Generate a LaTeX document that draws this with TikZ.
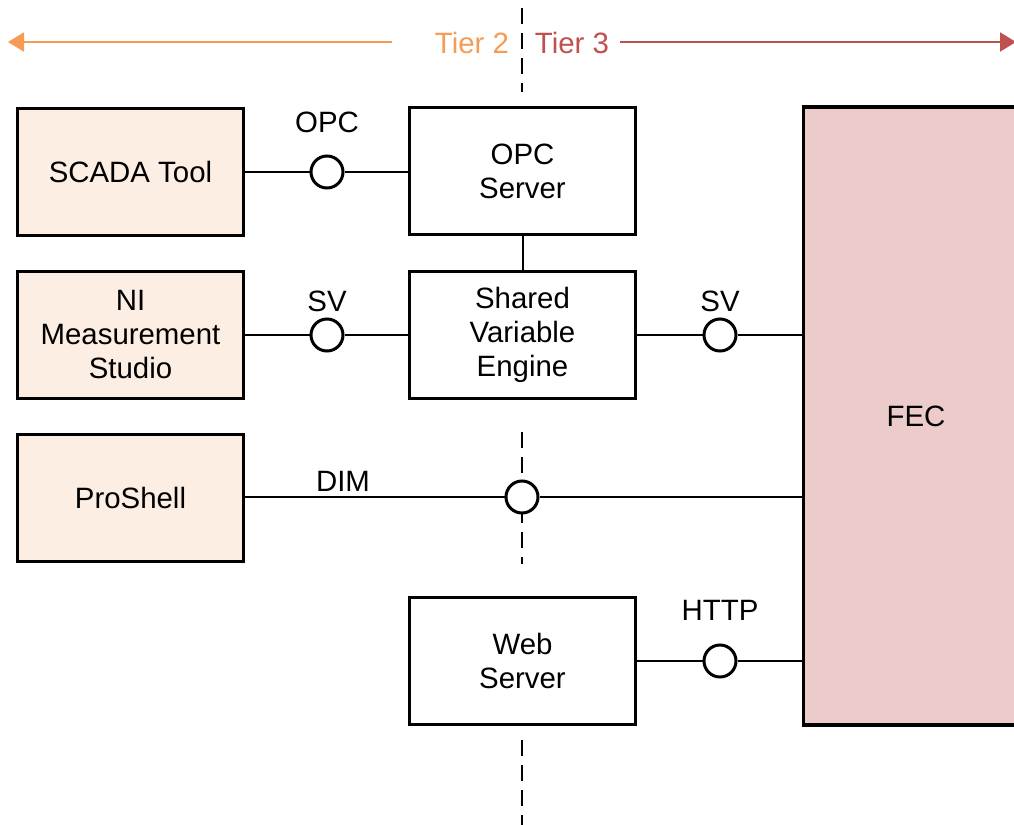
\documentclass[tikz,border=0pt]{standalone}
\usepackage{fontspec}
\setmainfont{Liberation Sans}
\usetikzlibrary{arrows.meta}
\definecolor{tiertwo}{HTML}{F59B55}
\definecolor{tierthree}{HTML}{C0504D}
\definecolor{peach}{HTML}{FDEEE3}
\definecolor{fecpink}{HTML}{EBCCCA}
\begin{document}
\begin{tikzpicture}[x=0.5pt,y=-0.5pt,
  every node/.style={font=\fontsize{14.7pt}{17pt}\selectfont, align=center},
  box/.style={draw, line width=1.6pt, minimum width=113pt, minimum height=63.5pt, inner sep=0pt},
  toolbox/.style={box, fill=peach},
  srvbox/.style={box, fill=white},
  iface/.style={draw, circle, line width=1.5pt, fill=white, minimum size=16pt, inner sep=0pt},
  conn/.style={line width=1pt},
  tierline/.style={dashed, line width=1pt, dash pattern=on 8pt off 4.5pt},
  lbl/.style={inner sep=0pt}]
\useasboundingbox (0,0) rectangle (1014,825);
\clip (0,0) rectangle (1014,825);
% tier divider
\coordinate (d1a) at (522,8);   \coordinate (d1b) at (522,92);
\coordinate (d2a) at (522,432); \coordinate (d2b) at (522,564);
\coordinate (d3a) at (522,740); \coordinate (d3b) at (522,825);
\draw[tierline] (d1a) -- (d1b);
\draw[tierline] (d2a) -- (d2b);
\draw[tierline] (d3a) -- (d3b);
% tier arrows
\node[lbl, text=tiertwo] (tier2) at (472,43) {Tier 2};
\node[lbl, text=tierthree] (tier3) at (572,43) {Tier 3};
\coordinate (t2s) at (392,42); \coordinate (t2e) at (8,42);
\coordinate (t3s) at (620,42); \coordinate (t3e) at (1016,42);
\draw[tiertwo, line width=1.1pt, -{Triangle[length=8pt,width=9.5pt]}] (t2s) -- (t2e);
\draw[tierthree, line width=1.1pt, -{Triangle[length=8pt,width=9.5pt]}] (t3s) -- (t3e);
% boxes
\node[toolbox] (scada) at (130.5,172) {SCADA Tool};
\node[toolbox] (nims) at (130.5,335) {NI\\Measurement\\Studio};
\node[toolbox] (proshell) at (130.5,498) {ProShell};
\node[srvbox] (opcsrv) at (522.5,171) {OPC\\Server};
\node[srvbox] (sve) at (522.5,335) {Shared\\Variable\\Engine};
\node[srvbox] (web) at (522.5,661) {Web\\Server};
\node[draw, line width=1.6pt, fill=fecpink, minimum width=112.5pt, minimum height=309pt, inner sep=0pt] (fec) at (916,416) {FEC};
% interfaces
\node[iface] (opc) at (327,172) {};
\node[iface] (svl) at (327,335) {};
\node[iface] (svr) at (720,335) {};
\node[iface] (dim) at (522,497) {};
\node[iface] (http) at (720,661) {};
\node[lbl] (opclbl) at (327,122) {OPC};
\node[lbl] (svllbl) at (327,301) {SV};
\node[lbl] (svrlbl) at (720,301) {SV};
\node[lbl] (dimlbl) at (343,481) {DIM};
\node[lbl] (httplbl) at (720,610) {HTTP};
% connectors
\draw[conn] (scada.east) -- (opc.west);
\draw[conn] (opc.east) -- (opc -| opcsrv.west);
\draw[conn] (nims.east) -- (svl.west);
\draw[conn] (svl.east) -- (sve.west);
\draw[conn] (opcsrv.south) -- (sve.north);
\draw[conn] (sve.east) -- (svr.west);
\draw[conn] (svr.east) -- (svr -| fec.west);
\draw[conn] (proshell.east |- dim) -- (dim.west);
\draw[conn] (dim.east) -- (dim -| fec.west);
\draw[conn] (web.east) -- (http.west);
\draw[conn] (http.east) -- (http -| fec.west);
\end{tikzpicture}
\end{document}
